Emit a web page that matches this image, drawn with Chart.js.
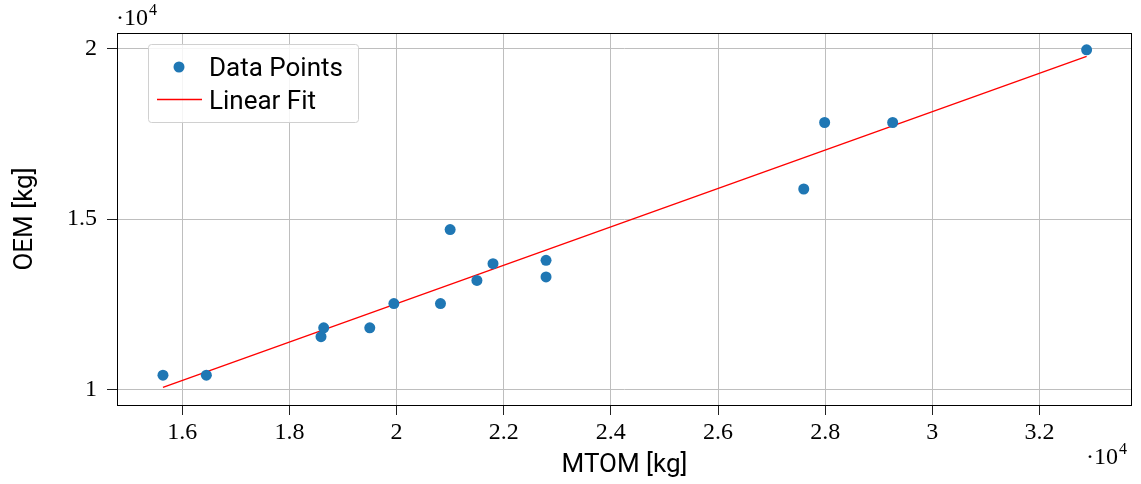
<!DOCTYPE html>
<html>
<head>
<meta charset="utf-8">
<script src="https://cdn.jsdelivr.net/npm/chart.js@4/dist/chart.umd.min.js"></script>
<style>
  html, body { margin: 0; padding: 0; background: #fff; }
  #wrap { width: 1141px; height: 484px; }
</style>
</head>
<body>
<div id="wrap"><canvas id="c" width="1141" height="484"></canvas></div>
<script>
// ---- data (kg) ----
const mtom = [15640, 16450, 18590, 18640, 19500, 19950, 20820, 21000, 21500, 21800, 22790, 22790, 27600, 27990, 29260, 32880];
const oem  = [10420, 10420, 11550, 11810, 11810, 12520, 12520, 14690, 13200, 13690, 13790, 13300, 15880, 17830, 17830, 19960];
const fitX = [15640, 32880];
const fitY = [10060, 19770];
const xTicks = [16000, 18000, 20000, 22000, 24000, 26000, 28000, 30000, 32000];
const xTickLabels = ['1.6', '1.8', '2', '2.2', '2.4', '2.6', '2.8', '3', '3.2'];
const yTicks = [10000, 15000, 20000];
const yTickLabels = ['1', '1.5', '2'];
const xRange = [14782, 33727];
const yRange = [9546, 20454];
const seriesLabels = ['Data Points', 'Linear Fit'];
const xTitle = 'MTOM [kg]';
const yTitle = 'OEM [kg]';
const scaleText = ['\u00b710', '4'];

const SANS = 'Roboto';
const SERIF = '"Liberation Serif"';

const frameAndLegend = {
  id: 'frameAndLegend',
  beforeDatasetsDraw(chart) {
    const {ctx, chartArea: a} = chart;
    ctx.save();
    ctx.strokeStyle = '#000';
    ctx.lineWidth = 1;
    ctx.strokeRect(Math.round(a.left) + 0.5, Math.round(a.top) + 0.5,
                   Math.round(a.right - a.left) - 1, Math.round(a.bottom - a.top));
    ctx.restore();
  },
  afterDraw(chart) {
    const {ctx} = chart;
    ctx.save();
    // legend box
    const bx = 148, by = 44, bw = 210, bh = 78, r = 3;
    ctx.fillStyle = 'rgba(255,255,255,0.85)';
    ctx.strokeStyle = '#d0d0d0';
    ctx.lineWidth = 1;
    ctx.beginPath();
    ctx.roundRect(bx + 0.5, by + 0.5, bw, bh, r);
    ctx.fill();
    ctx.stroke();
    const ds0 = chart.data.datasets[0], ds1 = chart.data.datasets[1];
    ctx.fillStyle = ds0.backgroundColor;
    ctx.beginPath();
    ctx.arc(179, 67, 5.5, 0, Math.PI * 2);
    ctx.fill();
    ctx.strokeStyle = ds1.borderColor;
    ctx.lineWidth = 1.3;
    ctx.beginPath();
    ctx.moveTo(157, 99.5);
    ctx.lineTo(202, 99.5);
    ctx.stroke();
    ctx.fillStyle = '#000';
    ctx.font = '26px ' + SANS;
    ctx.textBaseline = 'alphabetic';
    ctx.textAlign = 'left';
    ctx.fillText(ds0.label, 209, 75.5);
    ctx.fillText(ds1.label, 209, 108.5);
    // scale multipliers
    const drawMult = (x, y) => {
      ctx.font = '24px ' + SERIF;
      ctx.fillText(scaleText[0], x, y);
      const w = ctx.measureText(scaleText[0]).width;
      ctx.font = '16px ' + SERIF;
      ctx.fillText(scaleText[1], x + w + 1, y - 10);
    };
    drawMult(116, 25);
    drawMult(1086, 464);
    ctx.restore();
  }
};

new Chart(document.getElementById('c'), {
  type: 'scatter',
  data: {
    datasets: [
      {
        label: seriesLabels[0],
        data: mtom.map((x, i) => ({x, y: oem[i]})),
        backgroundColor: '#1f77b4',
        borderColor: '#1f77b4',
        borderWidth: 0,
        pointRadius: 5.5,
        order: 0
      },
      {
        label: seriesLabels[1],
        type: 'line',
        data: fitX.map((x, i) => ({x, y: fitY[i]})),
        borderColor: '#ff0000',
        borderWidth: 1.3,
        pointRadius: 0,
        fill: false,
        showLine: true,
        order: 1
      }
    ]
  },
  options: {
    responsive: false,
    animation: false,
    devicePixelRatio: 1,
    layout: { padding: { top: 33, right: 9, left: 0, bottom: 0 } },
    plugins: { legend: { display: false }, tooltip: { enabled: false } },
    scales: {
      x: {
        type: 'linear',
        min: xRange[0], max: xRange[1],
        afterFit(s) { s.height = 79; },
        afterBuildTicks(s) { s.ticks = xTicks.map(v => ({value: v})); },
        ticks: {
          callback: (v) => xTickLabels[xTicks.indexOf(v)],
          font: { family: SERIF, size: 24 },
          color: '#000',
          padding: 3,
          maxRotation: 0
        },
        grid: { color: '#bebebe', lineWidth: 1, tickLength: 10, tickColor: '#222', drawTicks: true },
        border: { display: false },
        title: { display: true, text: xTitle, font: { family: SANS, size: 26 }, color: '#000', padding: { top: 0, bottom: 2.5 } }
      },
      y: {
        type: 'linear',
        min: yRange[0], max: yRange[1],
        afterFit(s) { s.width = 117; },
        afterBuildTicks(s) { s.ticks = yTicks.map(v => ({value: v})); },
        ticks: {
          callback: (v) => yTickLabels[yTicks.indexOf(v)],
          font: { family: SERIF, size: 24 },
          color: '#000',
          padding: 10
        },
        grid: { color: '#bebebe', lineWidth: 1, tickLength: 10, tickColor: '#222', drawTicks: true },
        border: { display: false },
        title: { display: true, text: yTitle, font: { family: SANS, size: 26 }, color: '#000', padding: { top: 9.5, bottom: 0 } }
      }
    }
  },
  plugins: [frameAndLegend]
});
</script>
</body>
</html>
